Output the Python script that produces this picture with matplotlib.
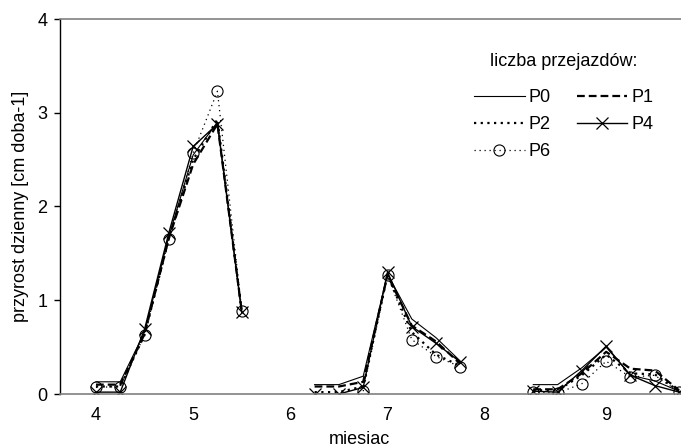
import numpy as np
import matplotlib
matplotlib.use("Agg")
import matplotlib.pyplot as plt

plt.rcParams['font.family'] = ['Liberation Sans', 'DejaVu Sans']

nan = np.nan
# category positions (weekly observations); gaps between seasons are NaN
x_idx = list(range(25))
tick_pos = [0, 4, 8, 12, 16, 21]
tick_labels = ['4', '5', '6', '7', '8', '9']

P0 = [0.13, 0.13, 0.66, 1.68, 2.55, 2.90, 0.88, nan, nan,
      0.10, 0.10, 0.19, 1.28, 0.80, 0.60, 0.35, nan, nan,
      0.10, 0.10, 0.28, 0.50, 0.20, 0.14, 0.03]
P1 = [0.10, 0.10, 0.64, 1.66, 2.45, 2.88, 0.88, nan, nan,
      0.08, 0.08, 0.13, 1.27, 0.73, 0.56, 0.32, nan, nan,
      0.05, 0.05, 0.22, 0.45, 0.27, 0.25, 0.04]
P2 = [0.08, 0.08, 0.63, 1.66, 2.50, 2.93, 0.88, nan, nan,
      0.02, 0.02, 0.08, 1.27, 0.66, 0.42, 0.30, nan, nan,
      0.04, 0.04, 0.20, 0.42, 0.22, 0.21, 0.03]
P4 = [0.02, 0.02, 0.69, 1.72, 2.64, 2.88, 0.87, nan, nan,
      0.00, 0.00, 0.07, 1.30, 0.72, 0.54, 0.34, nan, nan,
      0.03, 0.02, 0.25, 0.51, 0.20, 0.09, 0.02]
P6 = [0.07, 0.08, 0.63, 1.65, 2.57, 3.23, 0.89, nan, nan,
      nan, nan, 0.03, 1.27, 0.58, 0.40, 0.29, nan, nan,
      0.02, 0.01, 0.11, 0.35, 0.18, 0.20, 0.02]

FS = 13

fig = plt.figure(figsize=(6.81, 4.48), dpi=100)
ax = fig.add_axes([60/681, (448-394)/448, 621/681, 375/448])

ax.plot(x_idx, P0, color='black', lw=0.8, label='P0')
ax.plot(x_idx, P1, color='black', lw=1.6, dashes=(3.5, 1.8), label='P1')
ax.plot(x_idx, P2, color='black', lw=1.6, dashes=(1.0, 2.0), label='P2')
ax.plot(x_idx, P4, color='black', lw=1.0, marker='x', ms=9, mew=0.9, label='P4')
ax.plot(x_idx, P6, color='black', lw=0.9, dashes=(1.0, 3.0), marker='o', ms=8,
        mfc='none', mew=0.8, label='P6')

ax.set_xlim(-1.48, 24.08)
ax.set_ylim(0, 4)
ax.set_xticks(tick_pos)
ax.set_xticklabels(tick_labels)
ax.set_yticks([0, 1, 2, 3, 4])
ax.tick_params(axis='x', length=0, pad=9, labelsize=FS)
ax.tick_params(axis='y', length=4, width=1, pad=5, labelsize=FS)

for s in ['top', 'bottom']:
    ax.spines[s].set_color('#808080')
    ax.spines[s].set_linewidth(1.2)
ax.spines['left'].set_color('black')
ax.spines['left'].set_linewidth(1.0)
ax.spines['right'].set_visible(False)

ax.set_xlabel('miesiac', fontsize=FS)
ax.xaxis.set_label_coords((359-60)/621, -(439-394)/375)
ax.xaxis.label.set_va('center')
ax.set_ylabel('przyrost dzienny [cm doba-1]', fontsize=FS)
ax.yaxis.set_label_coords((21-60)/621, 0.5)
ax.yaxis.label.set_va('center')

handles, labels = ax.get_legend_handles_labels()
order = [0, 2, 4, 1, 3]
leg = ax.legend([handles[i] for i in order], [labels[i] for i in order],
                ncol=2, frameon=False, title='liczba przejazdów:',
                title_fontsize=FS, fontsize=FS,
                handlelength=2.8, handletextpad=0.22, columnspacing=1.45,
                labelspacing=0.55, borderpad=0, borderaxespad=0,
                loc='upper left', bbox_to_anchor=(474/681, (448-53)/448),
                bbox_transform=fig.transFigure)
leg._legend_box.sep = 14

fig.savefig('out.png', dpi=100)
